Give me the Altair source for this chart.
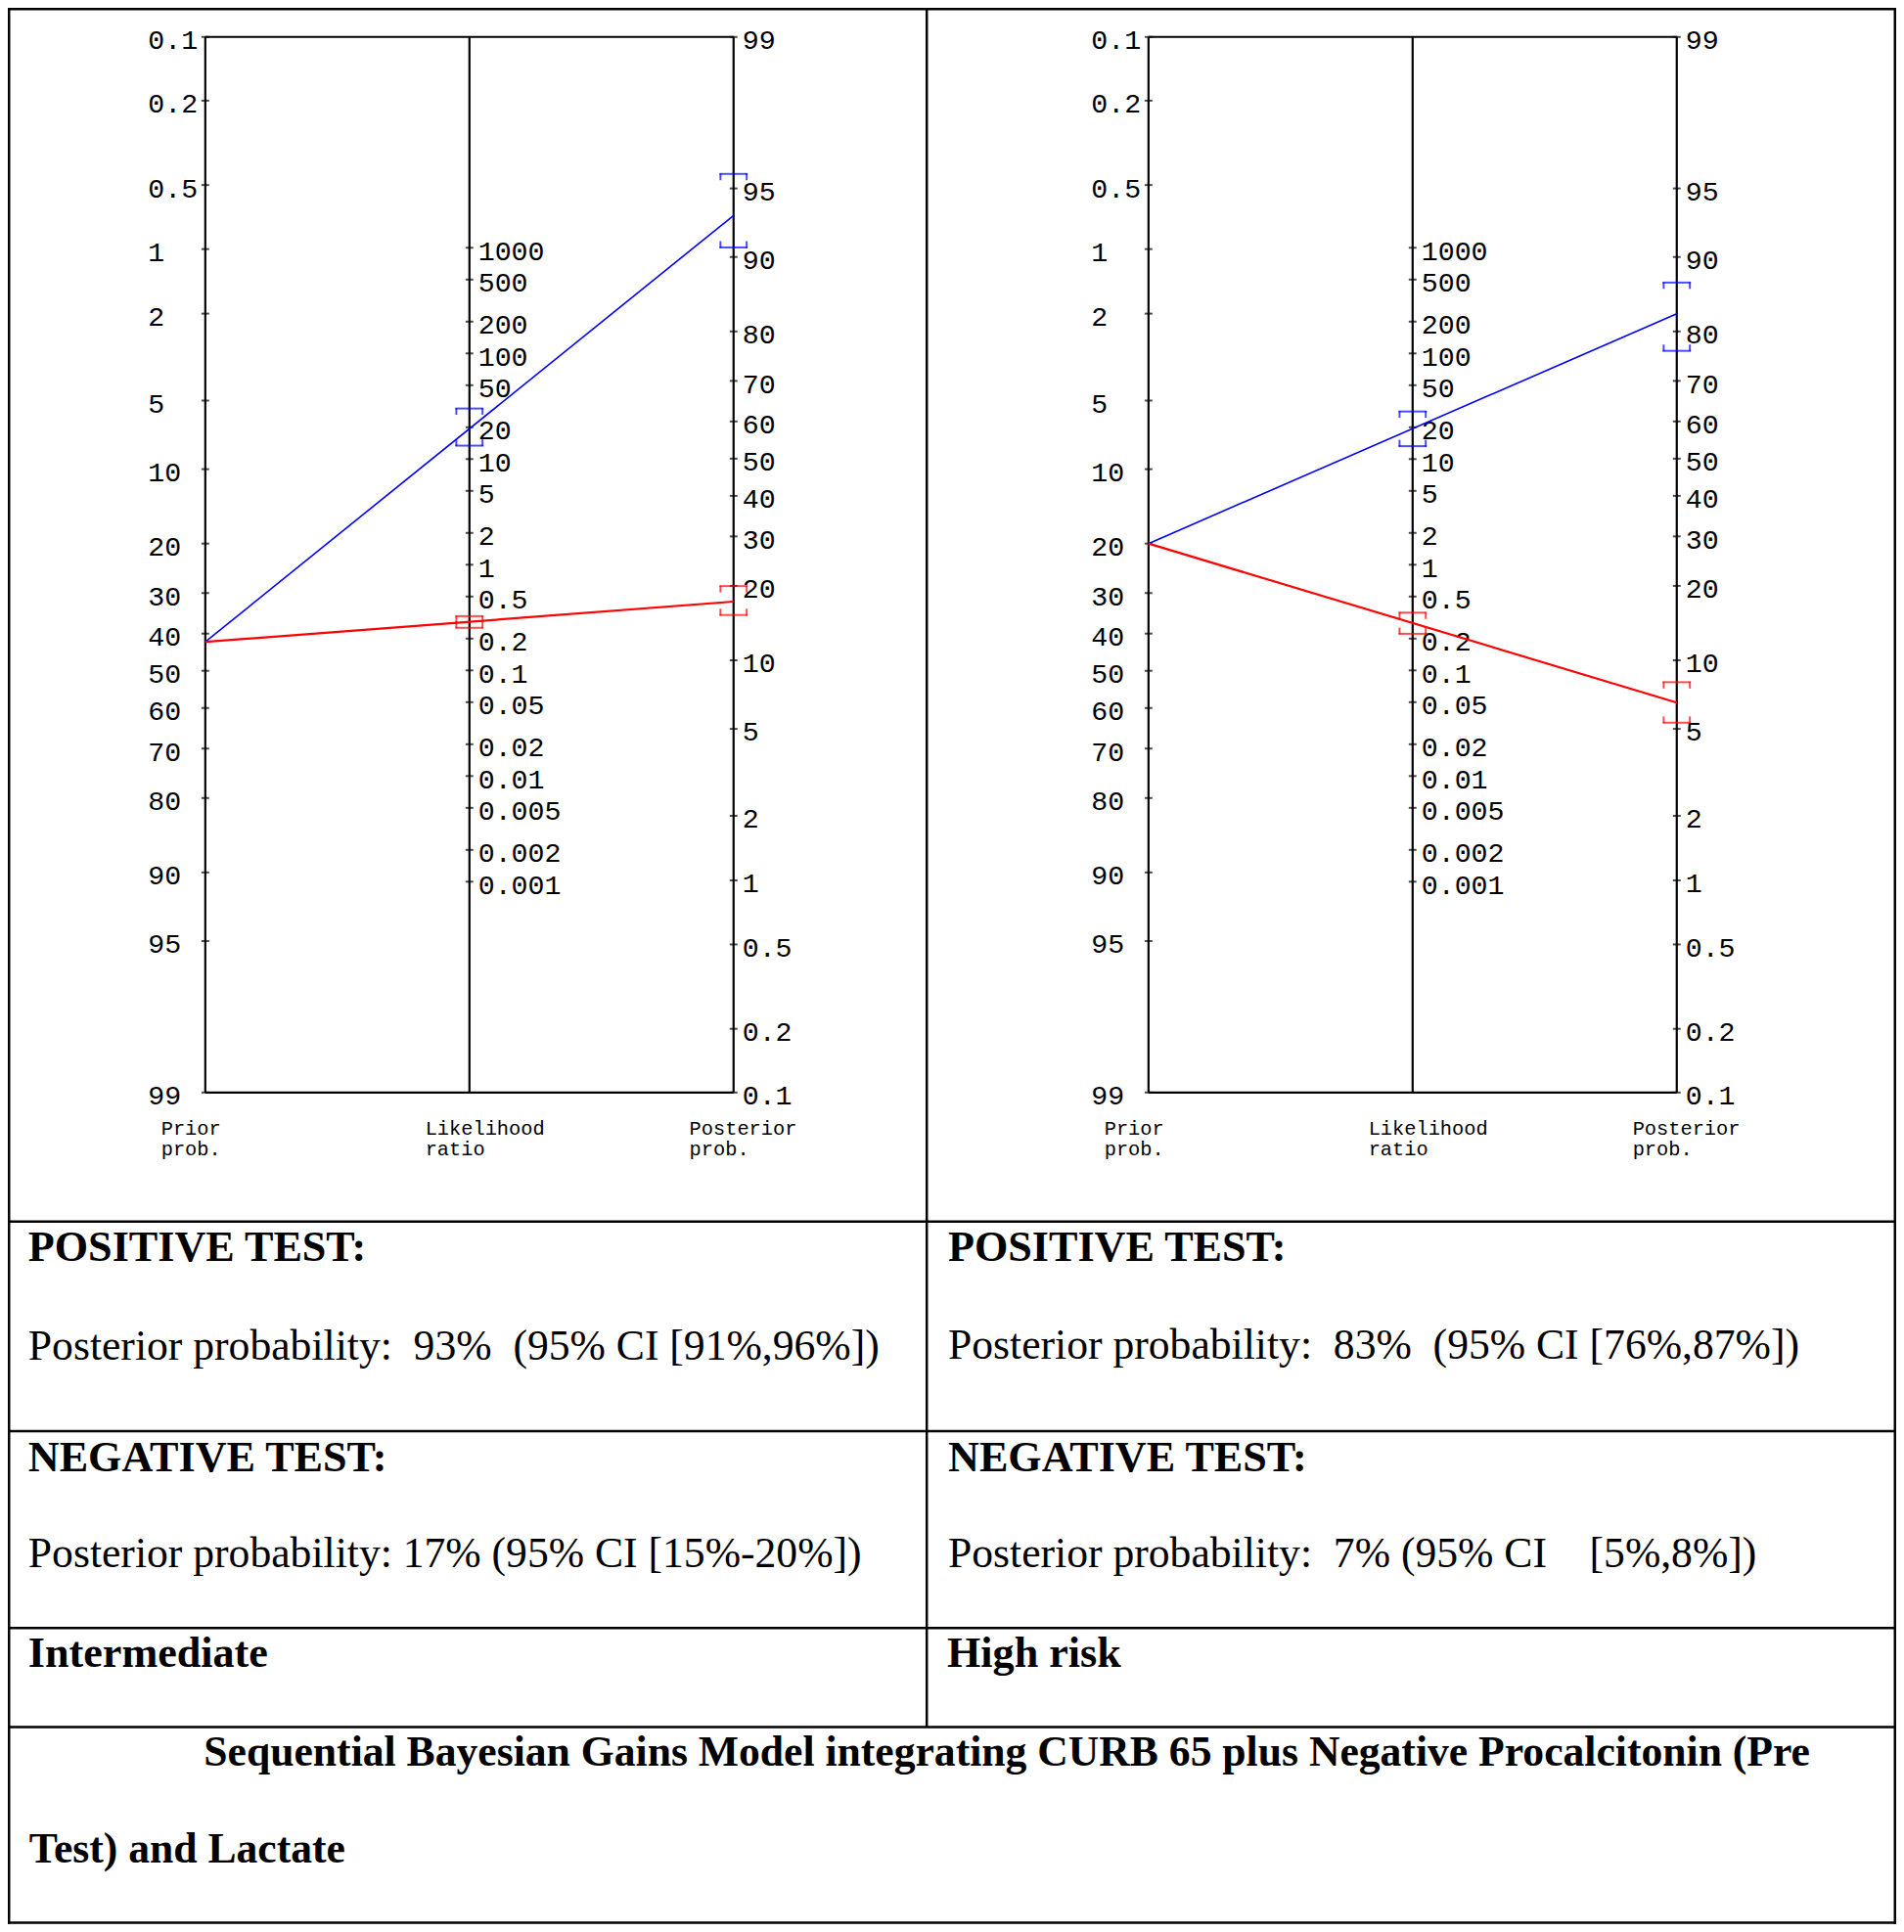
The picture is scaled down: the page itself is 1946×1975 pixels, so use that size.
import math
import altair as alt
import pandas as pd

K = 0.9918  # the 1946x1975 layout, shrunk a hair to fit inside the 8px page margin

# ---------------- data ----------------
prior_ticks = [0.1, 0.2, 0.5, 1, 2, 5, 10, 20, 30, 40, 50, 60, 70, 80, 90, 95, 99]
lr_ticks = [1000, 500, 200, 100, 50, 20, 10, 5, 2, 1, 0.5, 0.2, 0.1, 0.05, 0.02,
            0.01, 0.005, 0.002, 0.001]
post_ticks = [99, 95, 90, 80, 70, 60, 50, 40, 30, 20, 10, 5, 2, 1, 0.5, 0.2, 0.1]
axis_titles = ["Prior\nprob.", "Likelihood\nratio", "Posterior\nprob."]

prior = [42.2, 20.0]                       # pre-test probability (%)
pos_post = [93.4, 82.9]                    # posterior after positive test (%)
pos_post_ci = [(90.9, 95.7), (76.4, 87.2)]
pos_lr_ci = [(13.4, 30.1), (13.25, 28.2)]
neg_post = [17.4, 6.55]                    # posterior after negative test (%)
neg_post_ci = [(15.4, 19.96), (5.33, 8.05)]
neg_lr_ci = [(0.253, 0.326), (0.222, 0.352)]

NB = "\u00a0"
pos_head = "POSITIVE TEST:"
neg_head = "NEGATIVE TEST:"
pos_text = ["Posterior probability: " + NB + "93% " + NB + "(95% CI [91%,96%])",
            "Posterior probability: " + NB + "83% " + NB + "(95% CI [76%,87%])"]
neg_text = ["Posterior probability: 17% (95% CI [15%-20%])",
            "Posterior probability: " + NB + "7% (95% CI " + NB * 3 + "[5%,8%])"]
risk = ["Intermediate", "High risk"]
title_lines = ["Sequential Bayesian Gains Model integrating CURB 65 plus Negative Procalcitonin (Pre",
               "Test) and Lactate"]

# ---------------- nomogram scale helpers ----------------
def logit(p):
    return math.log(p / (100.0 - p))

U_TOP = -logit(0.1)
U_BOT = -logit(99.0)
C = U_TOP - logit(99.0)


def u_prior(p):
    return -logit(p)


def u_post(p):
    return logit(p) + C


def u_lr(r):
    return (math.log(r) + C) / 2.0


def fmt(v):
    return "%g" % v


# ---------------- layout (reference pixels) ----------------
W_REF, H_REF = 1946, 1975
ROW_Y = [0, 1251, 1467, 1670, 1772, 1975]   # horizontal table lines
COL_X = 947                                  # vertical divider
NOMO_TOP, NOMO_BOT = 30, 1118
AXIS0 = 203.5
AXIS_GAP = 272.2
PANEL_SHIFT = [0.0, (1175.5 - 203.5) / AXIS_GAP]
LINE_W = 2.5

PXU = (NOMO_BOT - NOMO_TOP) / (U_TOP - U_BOT)
XDOM = [-AXIS0 / AXIS_GAP, (W_REF - AXIS0) / AXIS_GAP]
YDOM = [U_TOP - (H_REF - NOMO_TOP) / PXU, U_TOP + NOMO_TOP / PXU]
X = alt.X("x:Q", scale=alt.Scale(domain=XDOM, nice=False, zero=False), axis=None)
Y = alt.Y("u:Q", scale=alt.Scale(domain=YDOM, nice=False, zero=False), axis=None)

COLOR = alt.Color("test:N", scale=alt.Scale(domain=["positive", "negative"],
                                            range=["#0000ff", "#ff0000"]), legend=None)
SW = alt.StrokeWidth("test:N", scale=alt.Scale(domain=["positive", "negative"],
                                               range=[1.6, 2.2]), legend=None)
ONE = pd.DataFrame({"a": [0]})

# ---------------- tables built from the data ----------------
frame_rows, tick_rows, lab_l, lab_r, title_rows, line_rows, br_rows = [], [], [], [], [], [], []
for pi, s in enumerate(PANEL_SHIFT):
    for a in range(3):
        frame_rows.append((s + a, s + a, U_BOT, U_TOP))
    frame_rows.append((s, s + 2, U_TOP, U_TOP))
    frame_rows.append((s, s + 2, U_BOT, U_BOT))
    for p in prior_ticks:
        tick_rows.append((s, u_prior(p)))
        lab_l.append((s, u_prior(p), fmt(p)))
    for r in lr_ticks:
        tick_rows.append((s + 1, u_lr(r)))
        lab_r.append((s + 1, u_lr(r), fmt(r)))
    for p in post_ticks:
        tick_rows.append((s + 2, u_post(p)))
        lab_r.append((s + 2, u_post(p), fmt(p)))
    for a, t in enumerate(axis_titles):
        title_rows.append((s + a, U_BOT, t))
    line_rows += [(pi, "positive", s, u_prior(prior[pi])), (pi, "positive", s + 2, u_post(pos_post[pi])),
                  (pi, "negative", s, u_prior(prior[pi])), (pi, "negative", s + 2, u_post(neg_post[pi]))]
    for test, lr_ci, post_ci in [("positive", pos_lr_ci[pi], pos_post_ci[pi]),
                                 ("negative", neg_lr_ci[pi], neg_post_ci[pi])]:
        br_rows += [(test, s + 1, u_lr(lr_ci[0]), "lo"), (test, s + 1, u_lr(lr_ci[1]), "hi"),
                    (test, s + 2, u_post(post_ci[0]), "lo"), (test, s + 2, u_post(post_ci[1]), "hi")]

frame = pd.DataFrame(frame_rows, columns=["x", "x2", "u", "u2"])
ticks = pd.DataFrame(tick_rows, columns=["x", "u"])
labels_left = pd.DataFrame(lab_l, columns=["x", "u", "t"])
labels_right = pd.DataFrame(lab_r, columns=["x", "u", "t"])
titles = pd.DataFrame(title_rows, columns=["x", "u", "t"])
lines = pd.DataFrame(line_rows, columns=["panel", "test", "x", "u"])
br = pd.DataFrame(br_rows, columns=["test", "x", "u", "edge"])

MONO = "Liberation Mono"
layers = [
    alt.Chart(frame).mark_rule(color="black", strokeWidth=2.2 * K).encode(
        x=X, x2="x2:Q", y=Y, y2="u2:Q"),
    alt.Chart(ticks).mark_tick(orient="horizontal", size=8 * K, thickness=2 * K,
                               color="black").encode(x=X, y=Y),
    alt.Chart(labels_left).mark_text(align="left", baseline="alphabetic", dx=-59 * K,
                                     dy=12.5 * K, font=MONO, fontSize=28.5 * K,
                                     color="black").encode(x=X, y=Y, text="t:N"),
    alt.Chart(labels_right).mark_text(align="left", baseline="alphabetic", dx=9 * K,
                                      dy=12.5 * K, font=MONO, fontSize=28.5 * K,
                                      color="black").encode(x=X, y=Y, text="t:N"),
    alt.Chart(titles).mark_text(align="left", baseline="alphabetic", dx=-45.5 * K, dy=44 * K,
                                lineBreak="\n", lineHeight=21 * K, font=MONO,
                                fontSize=20.5 * K, color="black").encode(x=X, y=Y, text="t:N"),
    alt.Chart(lines).mark_line().encode(x=X, y=Y, color=COLOR, strokeWidth=SW,
                                        detail="panel:N"),
    alt.Chart(br).mark_tick(orient="horizontal", size=29 * K, thickness=2 * K).encode(
        x=X, y=Y, color=COLOR),
]
for edge, off in [("hi", 3), ("lo", -3)]:
    for side in (-1, 1):
        layers.append(
            alt.Chart(br).transform_filter(alt.datum.edge == edge).mark_tick(
                orient="vertical", size=7 * K, thickness=2 * K,
                xOffset=side * 13.5 * K, yOffset=off * K).encode(x=X, y=Y, color=COLOR))


# ---------------- table lines (filled bars, so nothing spills outside) ----------------
def bar(x0, x1, y0, y1):
    return alt.Chart(ONE).mark_rect(color="black").encode(
        x=alt.value(x0 * K), x2=alt.value(x1 * K), y=alt.value(y0 * K), y2=alt.value(y1 * K))


for yy in ROW_Y:
    y0 = min(max(yy - LINE_W / 2, 0), H_REF - LINE_W)
    layers.append(bar(0, W_REF, y0, y0 + LINE_W))
layers.append(bar(0, LINE_W, 0, H_REF))
layers.append(bar(W_REF - LINE_W, W_REF, 0, H_REF))
layers.append(bar(COL_X - LINE_W / 2, COL_X + LINE_W / 2, 0, ROW_Y[4]))


# ---------------- table texts ----------------
def txt(text, x, y, bold, size=None):
    if size is None:
        size = 44.5 if bold else 44
    return alt.Chart(pd.DataFrame({"t": [text]})).mark_text(
        align="left", baseline="alphabetic", font="Liberation Serif",
        fontSize=size * K, fontWeight="bold" if bold else "normal",
        color="black").encode(x=alt.value(x * K), y=alt.value(y * K), text="t:N")


layers += [
    txt(pos_head, 21, 1292, True), txt(pos_text[0], 21, 1393, False),
    txt(pos_head, 969, 1292, True), txt(pos_text[1], 969, 1392, False),
    txt(neg_head, 21, 1508, True), txt(neg_text[0], 21, 1607, False),
    txt(neg_head, 969, 1508, True), txt(neg_text[1], 969, 1607, False),
    txt(risk[0], 21, 1710, True), txt(risk[1], 968, 1710, True),
    txt(title_lines[0], 202, 1812, True, 44), txt(title_lines[1], 22, 1912, True, 44),
]

chart = alt.layer(*layers).properties(
    width=W_REF * K, height=H_REF * K, padding=0, background="white",
    autosize=alt.AutoSizeParams(type="none"),
).configure_view(strokeWidth=0)

chart.save("out.html", embed_options={"renderer": "svg", "actions": False})
